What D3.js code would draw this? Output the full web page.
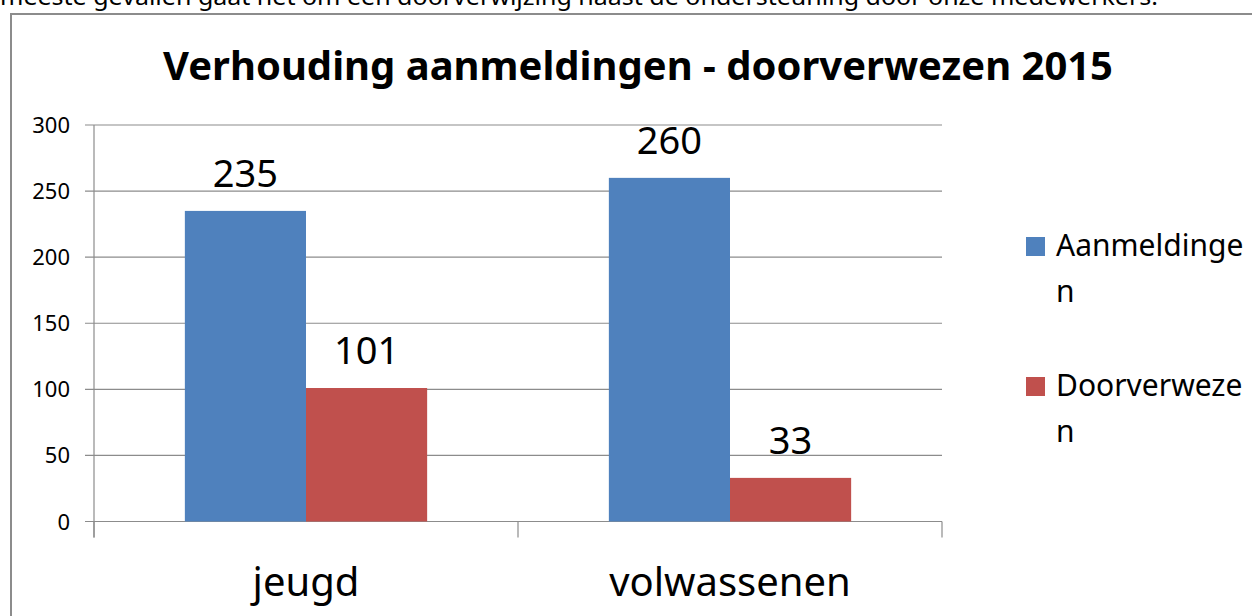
<!DOCTYPE html>
<html>
<head>
<meta charset="utf-8">
<script src="https://cdn.jsdelivr.net/npm/d3@7"></script>
<style>
  html, body { margin: 0; padding: 0; background: #fff; }
  svg { display: block; font-family: "Noto Sans", "Open Sans", sans-serif; }
</style>
</head>
<body>
<svg id="chart" width="1252" height="616"></svg>
<script>
const categories = ["jeugd", "volwassenen"];
const seriesNames = ["Aanmeldingen", "Doorverwezen"];
const aanmeldingen = [235, 260];
const doorverwezen = [101, 33];
const yTicks = [0, 50, 100, 150, 200, 250, 300];
const titleText = "Verhouding aanmeldingen - doorverwezen 2015";
const bodyText = "meeste gevallen gaat het om een doorverwijzing naast de ondersteuning door onze medewerkers.";

const colors = ["#4F81BD", "#C0504D"];
const series = [aanmeldingen, doorverwezen];

const svg = d3.select("#chart");

// document text above the chart (cropped at top)
svg.append("text")
  .attr("x", 0).attr("y", 5)
  .attr("font-size", 24)
  .attr("textLength", 1158).attr("lengthAdjust", "spacingAndGlyphs")
  .attr("fill", "#000")
  .text(bodyText);

// chart frame
svg.append("rect")
  .attr("x", 11).attr("y", 14)
  .attr("width", 1300).attr("height", 700)
  .attr("fill", "#fff")
  .attr("stroke", "#8c8c8c").attr("stroke-width", 2);

const x0 = 94, x1 = 942, yTop = 125, yBot = 521.5;

const x = d3.scaleBand().domain(categories).range([x0, x1]).paddingInner(0).paddingOuter(0);
const xs = d3.scaleBand().domain(seriesNames).range([0, x.bandwidth()]).paddingOuter(0.75).paddingInner(0);
const y = d3.scaleLinear().domain([0, 300]).range([yBot, yTop]);

// gridlines
svg.append("g").selectAll("line").data(yTicks).join("line")
  .attr("x1", x0 - 9).attr("x2", x1)
  .attr("y1", d => y(d)).attr("y2", d => y(d))
  .attr("stroke", "#8c8c8c").attr("stroke-width", 1.2);

// y axis line
svg.append("line").attr("x1", x0).attr("x2", x0).attr("y1", yTop).attr("y2", yBot + 16)
  .attr("stroke", "#8c8c8c").attr("stroke-width", 1.2);

// x tick marks at category boundaries
const boundaries = [x0, ...categories.map(c => x(c) + x.bandwidth())];
svg.append("g").selectAll("line").data(boundaries).join("line")
  .attr("x1", d => d).attr("x2", d => d)
  .attr("y1", yBot).attr("y2", yBot + 16)
  .attr("stroke", "#8c8c8c").attr("stroke-width", 1.2);

// y tick labels
svg.append("g").selectAll("text").data(yTicks).join("text")
  .attr("x", 70).attr("y", d => y(d) + 8)
  .attr("text-anchor", "end")
  .attr("font-size", 22)
  .attr("fill", "#000")
  .text(d => d);

// bars
series.forEach((vals, si) => {
  const g = svg.append("g");
  g.selectAll("rect").data(categories).join("rect")
    .attr("x", (c) => x(c) + xs(seriesNames[si]))
    .attr("width", xs.bandwidth())
    .attr("y", (c, i) => y(vals[i]))
    .attr("height", (c, i) => yBot - y(vals[i]))
    .attr("fill", colors[si]);
  g.selectAll("text").data(categories).join("text")
    .attr("x", (c) => x(c) + xs(seriesNames[si]) + xs.bandwidth() / 2 - 60 * 0 )
    .attr("y", (c, i) => y(vals[i]) - 24)
    .attr("text-anchor", "middle")
    .attr("font-size", 38)
    .attr("fill", "#000")
    .text((c, i) => vals[i]);
});

// category labels
svg.append("g").selectAll("text").data(categories).join("text")
  .attr("x", c => x(c) + x.bandwidth() / 2)
  .attr("y", 596)
  .attr("text-anchor", "middle")
  .attr("font-size", 40)
  .attr("fill", "#000")
  .text(c => c);

// title
svg.append("text")
  .attr("x", 638).attr("y", 80)
  .attr("text-anchor", "middle")
  .attr("font-size", 40).attr("font-weight", "bold")
  .attr("textLength", 950).attr("lengthAdjust", "spacingAndGlyphs")
  .attr("fill", "#000")
  .text(titleText);

// legend
const legendLines = [["Aanmeldinge", "n"], ["Doorverweze", "n"]];
const legendY = [256, 396];
seriesNames.forEach((s, i) => {
  svg.append("rect")
    .attr("x", 1026).attr("y", legendY[i] - 19)
    .attr("width", 19).attr("height", 19)
    .attr("fill", colors[i]);
  legendLines[i].forEach((t, j) => {
    svg.append("text")
      .attr("x", 1056).attr("y", legendY[i] + j * 46)
      .attr("font-size", 30)
      .attr("fill", "#000")
      .text(t);
  });
});
</script>
</body>
</html>
